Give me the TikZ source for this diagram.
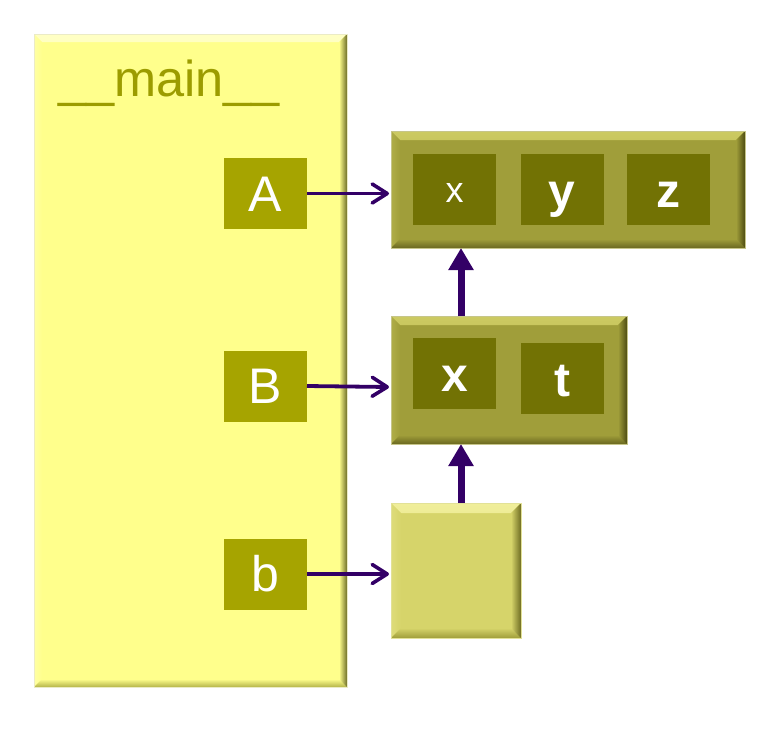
\documentclass[tikz,border=0pt]{standalone}
\usepackage{fontspec}
\setmainfont{Liberation Sans}
\usetikzlibrary{arrows.meta,calc}
\definecolor{mainY}{HTML}{FFFF8C}
\definecolor{mainT}{HTML}{FFFFC4}
\definecolor{mainL}{HTML}{FFFFA4}
\definecolor{mainB}{HTML}{B4B44A}
\definecolor{mainR}{HTML}{6E6E28}
\definecolor{olv}{HTML}{A09E3A}
\definecolor{olvT}{HTML}{CCCA62}
\definecolor{olvL}{HTML}{B0AE48}
\definecolor{olvB}{HTML}{6A6820}
\definecolor{olvR}{HTML}{4E4C12}
\definecolor{lt}{HTML}{D6D46A}
\definecolor{ltT}{HTML}{F0EE9A}
\definecolor{ltL}{HTML}{DEDC7A}
\definecolor{ltB}{HTML}{A09E3A}
\definecolor{ltR}{HTML}{6E6C22}
\definecolor{lbl}{HTML}{A6A400}
\definecolor{inner}{HTML}{727204}
\definecolor{arr}{HTML}{330066}
\definecolor{maintext}{HTML}{9C9C00}
\tikzset{
  bevel/.style n args={6}{path picture={
    \shade[top color=#2, bottom color=#6] (path picture bounding box.north west) -- (path picture bounding box.north east)
      -- ([xshift=-#1,yshift=-#1]path picture bounding box.north east)
      -- ([xshift=#1,yshift=-#1]path picture bounding box.north west) -- cycle;
    \shade[left color=#3, right color=#6] (path picture bounding box.north west) -- ([xshift=#1,yshift=-#1]path picture bounding box.north west)
      -- ([xshift=#1,yshift=#1]path picture bounding box.south west)
      -- (path picture bounding box.south west) -- cycle;
    \shade[top color=#6, bottom color=#4] (path picture bounding box.south west) -- (path picture bounding box.south east)
      -- ([xshift=-#1,yshift=#1]path picture bounding box.south east)
      -- ([xshift=#1,yshift=#1]path picture bounding box.south west) -- cycle;
    \shade[left color=#6, right color=#5] (path picture bounding box.north east) -- ([xshift=-#1,yshift=-#1]path picture bounding box.north east)
      -- ([xshift=-#1,yshift=#1]path picture bounding box.south east)
      -- (path picture bounding box.south east) -- cycle;
  }},
  box/.style={rectangle, inner sep=0pt, outer sep=0pt},
  mainbox/.style={box, fill=mainY, draw=mainY!80!black!40!white, line width=0.6pt, bevel={8pt}{mainT}{mainL}{mainB}{mainR}{mainY}},
  olvbox/.style={box, fill=olv, draw=olv!60!white, line width=0.6pt, bevel={9pt}{olvT}{olvL}{olvB}{olvR}{olv}},
  ltbox/.style={box, fill=lt, draw=lt!70!white, line width=0.6pt, bevel={10pt}{ltT}{ltL}{ltB}{ltR}{lt}},
  lblbox/.style={box, fill=lbl, minimum width=83pt, minimum height=71pt, text=white, font=\fontsize{50}{54}\selectfont, text height=35.8pt, text depth=0pt},
  innerbox/.style={box, fill=inner, minimum width=83pt, minimum height=71pt, text=white, text depth=0pt},
  bigbold/.style={font=\fontsize{48}{52}\selectfont\bfseries, text height=35pt},
  ptr/.style={draw=arr, line width=3.8pt, -{Straight Barb[length=15pt,width=19pt,line width=3.6pt,round]}},
  up/.style={draw=arr, line width=7pt, -{Triangle[length=22pt,width=24pt]}},
}
\begin{document}
\begin{tikzpicture}[x=1pt,y=-1pt]
\useasboundingbox (0,0) rectangle (768,732);
% main frame
\node[mainbox, minimum width=313pt, minimum height=653pt] (main) at (190.5,360.5) {};
\node[anchor=base west, text=maintext, inner sep=0pt, font=\fontsize{50.5}{55}\selectfont] (title) at (58,96) {\_\_main\_\_};
% labels
\node[lblbox] (A) at (265.5,193.5) {A};
\node[lblbox] (B) at (265.5,386) {B};
\node[lblbox] (b) at (265.5,574) {b};
% objects
\node[olvbox, minimum width=354pt, minimum height=117pt] (top) at (568,189.5) {};
\node[innerbox, font=\fontsize{36}{40}\selectfont, text height=26.5pt] (tx) at (454.5,189.5) {x};
\node[innerbox, bigbold] (ty) at (562,189.5) {y};
\node[innerbox, bigbold] (tz) at (668.5,189.5) {z};
\node[olvbox, minimum width=236pt, minimum height=128pt] (mid) at (509,380) {};
\node[innerbox, bigbold] (mx) at (454.5,373.5) {x};
\node[innerbox, bigbold] (mt) at (562,378.5) {t};
\node[ltbox, minimum width=130pt, minimum height=135pt] (bot) at (456,570.5) {};
% connectors
\draw[ptr] (A.east) -- ([xshift=-2pt]A.east -| top.west);
\draw[ptr] (B.east) -- ([xshift=-2pt,yshift=-1pt]B.east -| mid.west);
\draw[ptr] (b.east) -- ([xshift=-2pt]b.east -| bot.west);
\coordinate (ux) at ([xshift=5pt]bot.north);
\draw[up] (ux) -- (ux |- mid.south);
\draw[up] (ux |- mid.north) -- (ux |- top.south);
\end{tikzpicture}
\end{document}
